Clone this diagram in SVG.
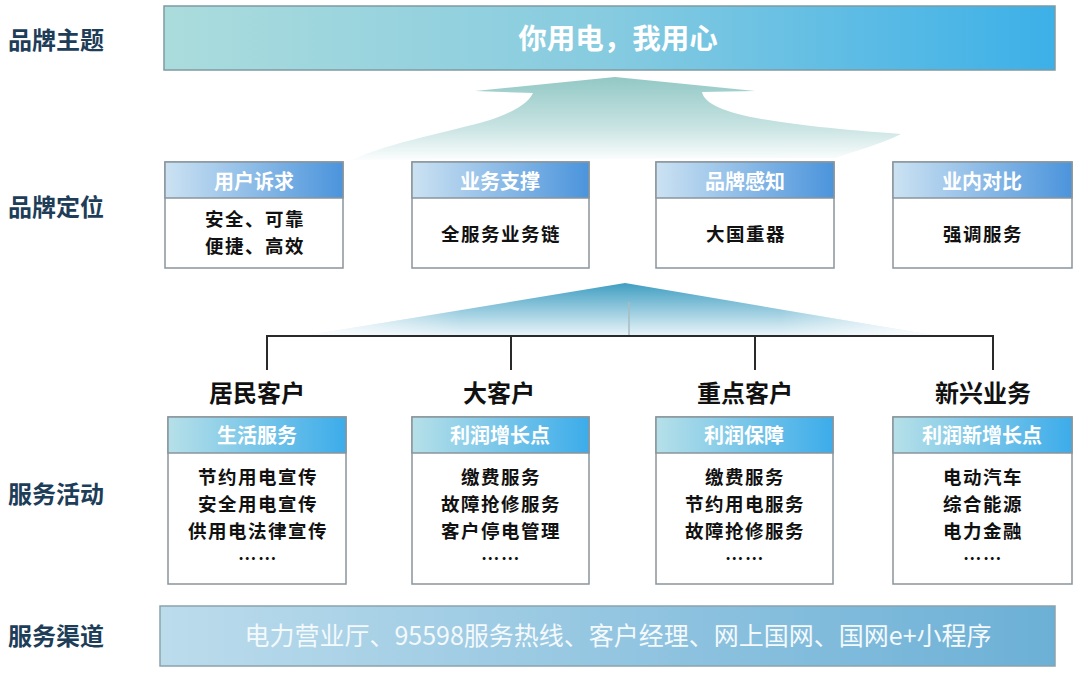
<svg xmlns="http://www.w3.org/2000/svg" width="1080" height="673" viewBox="0 0 1080 673">
<defs>
<linearGradient id="gTop" x1="0" y1="0" x2="1" y2="0">
<stop offset="0" stop-color="#abdcdc"/><stop offset="0.5" stop-color="#86cbe0"/><stop offset="1" stop-color="#3cb0e8"/>
</linearGradient>
<linearGradient id="gBot" x1="0" y1="0" x2="1" y2="0">
<stop offset="0" stop-color="#bcdcec"/><stop offset="1" stop-color="#6cb0d6"/>
</linearGradient>
<linearGradient id="gHead1" x1="0" y1="0" x2="1" y2="0">
<stop offset="0" stop-color="#cce2f2"/><stop offset="1" stop-color="#4b94dc"/>
</linearGradient>
<linearGradient id="gHead2" x1="0" y1="0" x2="1" y2="0">
<stop offset="0" stop-color="#b6e0e8"/><stop offset="1" stop-color="#3cacea"/>
</linearGradient>
<linearGradient id="gSwoosh" gradientUnits="userSpaceOnUse" x1="0" y1="77" x2="0" y2="162">
<stop offset="0" stop-color="#92c8c5"/><stop offset="0.6" stop-color="#c9e4e3"/><stop offset="1" stop-color="#ffffff"/>
</linearGradient>
<linearGradient id="gCone" gradientUnits="userSpaceOnUse" x1="0" y1="283" x2="0" y2="336">
<stop offset="0" stop-color="#3f9ec2"/><stop offset="1" stop-color="#eaf5f9"/>
</linearGradient>
<linearGradient id="gConeH" x1="0" y1="0" x2="1" y2="0">
<stop offset="0" stop-color="#ffffff" stop-opacity="0.9"/><stop offset="0.25" stop-color="#ffffff" stop-opacity="0"/><stop offset="0.75" stop-color="#ffffff" stop-opacity="0"/><stop offset="1" stop-color="#ffffff" stop-opacity="0.9"/>
</linearGradient>
<style>
.side{font-family:"Noto Sans CJK SC","Noto Sans",sans-serif;font-weight:700;font-size:24px;fill:#1d3d58}
.box{fill:#ffffff;stroke:#8a959c;stroke-width:1.5}
.hd{font-family:"Noto Sans CJK SC","Noto Sans",sans-serif;font-weight:700;font-size:20px;fill:#ffffff;text-anchor:middle}
.bd{font-family:"Noto Sans CJK SC","Noto Sans",sans-serif;font-weight:700;font-size:18.5px;letter-spacing:1.5px;fill:#111111;text-anchor:middle}
.cat{font-family:"Noto Sans CJK SC","Noto Sans",sans-serif;font-weight:700;font-size:24px;fill:#111111;text-anchor:middle}
.ln{stroke:#2a2a2a;stroke-width:2;fill:none}
</style>
</defs>
<rect width="1080" height="673" fill="#ffffff"/>

<text class="side" x="8" y="49">品牌主题</text>
<text class="side" x="8" y="216">品牌定位</text>
<text class="side" x="8" y="503">服务活动</text>
<text class="side" x="8" y="645">服务渠道</text>

<g id="theme">
<rect x="164" y="6" width="891" height="64" fill="url(#gTop)" stroke="#7f9aa3" stroke-width="1.5"/>
<text x="618" y="49" text-anchor="middle" font-family="Noto Sans CJK SC, sans-serif" font-weight="700" font-size="28.5" fill="#ffffff">你用电，我用心</text>
</g>

<g id="swoosh">
<path d="M 475 91 L 615 77 L 755 91 L 702 92 C 706 112, 760 124, 901 134 C 880 145, 850 152, 836 158 L 352 160 C 390 142, 450 132, 490 120 C 520 110, 530 100, 533 93 Z" fill="url(#gSwoosh)"/>
</g>

<g id="pos1">
<rect class="box" x="165" y="162" width="178" height="106"/>
<rect x="165" y="162" width="178" height="36" fill="url(#gHead1)" stroke="#8a959c" stroke-width="1.5"/>
<text class="hd" x="254" y="189">用户诉求</text>
<text class="bd" x="255" y="226">安全、可靠</text>
<text class="bd" x="255" y="253">便捷、高效</text>
</g>
<g id="pos2">
<rect class="box" x="412" y="162" width="177" height="106"/>
<rect x="412" y="162" width="177" height="36" fill="url(#gHead1)" stroke="#8a959c" stroke-width="1.5"/>
<text class="hd" x="500" y="189">业务支撑</text>
<text class="bd" x="501" y="241">全服务业务链</text>
</g>
<g id="pos3">
<rect class="box" x="656" y="162" width="178" height="106"/>
<rect x="656" y="162" width="178" height="36" fill="url(#gHead1)" stroke="#8a959c" stroke-width="1.5"/>
<text class="hd" x="745" y="189">品牌感知</text>
<text class="bd" x="746" y="241">大国重器</text>
</g>
<g id="pos4">
<rect class="box" x="893" y="162" width="179" height="106"/>
<rect x="893" y="162" width="179" height="36" fill="url(#gHead1)" stroke="#8a959c" stroke-width="1.5"/>
<text class="hd" x="982" y="189">业内对比</text>
<text class="bd" x="983" y="241">强调服务</text>
</g>

<g id="cone">
<path d="M 303 336 L 625 283 L 938 336 Z" fill="url(#gCone)"/>
<path d="M 303 336 L 625 283 L 938 336 Z" fill="url(#gConeH)"/>
</g>

<g id="connectors">
<line x1="629" y1="302" x2="629" y2="336" stroke="#a9bcc2" stroke-width="1.5"/>
<path class="ln" d="M 267 370 V 336 H 993 V 370"/>
<line class="ln" x1="511" y1="336" x2="511" y2="370"/>
<line class="ln" x1="755" y1="336" x2="755" y2="370"/>
</g>

<g id="cat1"><text class="cat" x="257" y="402">居民客户</text></g>
<g id="cat2"><text class="cat" x="499" y="402">大客户</text></g>
<g id="cat3"><text class="cat" x="745" y="402">重点客户</text></g>
<g id="cat4"><text class="cat" x="983" y="402">新兴业务</text></g>

<g id="svc1">
<rect class="box" x="168" y="417" width="178" height="167"/>
<rect x="168" y="417" width="178" height="36" fill="url(#gHead2)" stroke="#8a959c" stroke-width="1.5"/>
<text class="hd" x="257" y="443">生活服务</text>
<text class="bd" x="258" y="484">节约用电宣传</text>
<text class="bd" x="258" y="511">安全用电宣传</text>
<text class="bd" x="258" y="538">供用电法律宣传</text>
<text class="bd" x="258" y="565">……</text>
</g>
<g id="svc2">
<rect class="box" x="412" y="417" width="177" height="167"/>
<rect x="412" y="417" width="177" height="36" fill="url(#gHead2)" stroke="#8a959c" stroke-width="1.5"/>
<text class="hd" x="500" y="443">利润增长点</text>
<text class="bd" x="501" y="484">缴费服务</text>
<text class="bd" x="501" y="511">故障抢修服务</text>
<text class="bd" x="501" y="538">客户停电管理</text>
<text class="bd" x="501" y="565">……</text>
</g>
<g id="svc3">
<rect class="box" x="656" y="417" width="177" height="167"/>
<rect x="656" y="417" width="177" height="36" fill="url(#gHead2)" stroke="#8a959c" stroke-width="1.5"/>
<text class="hd" x="744" y="443">利润保障</text>
<text class="bd" x="745" y="484">缴费服务</text>
<text class="bd" x="745" y="511">节约用电服务</text>
<text class="bd" x="745" y="538">故障抢修服务</text>
<text class="bd" x="745" y="565">……</text>
</g>
<g id="svc4">
<rect class="box" x="893" y="417" width="179" height="167"/>
<rect x="893" y="417" width="179" height="36" fill="url(#gHead2)" stroke="#8a959c" stroke-width="1.5"/>
<text class="hd" x="982" y="443">利润新增长点</text>
<text class="bd" x="983" y="484">电动汽车</text>
<text class="bd" x="983" y="511">综合能源</text>
<text class="bd" x="983" y="538">电力金融</text>
<text class="bd" x="983" y="565">……</text>
</g>

<g id="channel">
<rect x="160" y="606" width="895" height="60" fill="url(#gBot)" stroke="#8aa3ad" stroke-width="1.5"/>
<text x="618" y="645" text-anchor="middle" font-family="Noto Sans CJK SC, sans-serif" font-size="25" fill="#f4f9fc">电力营业厅、95598服务热线、客户经理、网上国网、国网e+小程序</text>
</g>
</svg>
